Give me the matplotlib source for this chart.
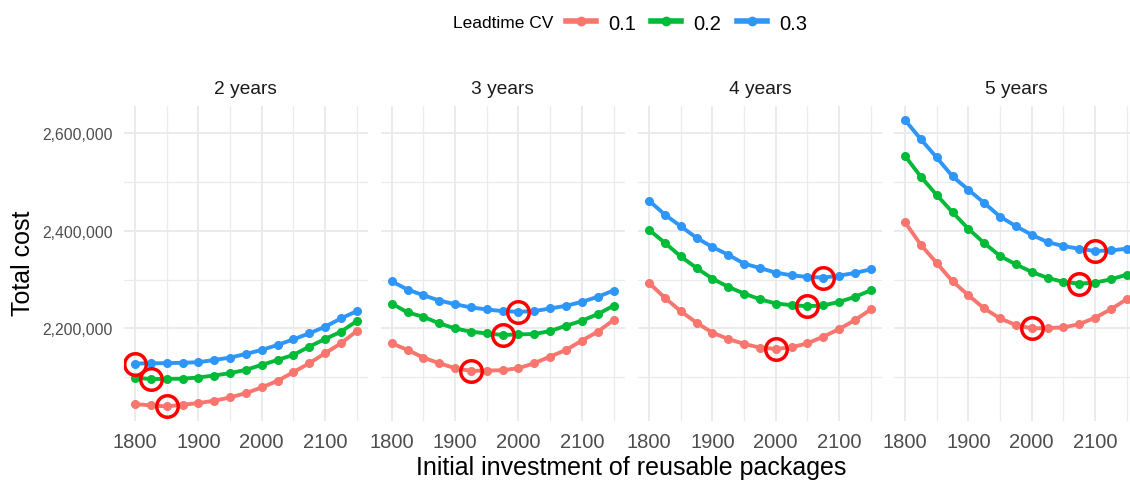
import numpy as np
import matplotlib
matplotlib.use("Agg")
import matplotlib.pyplot as plt
from matplotlib.lines import Line2D
from matplotlib.ticker import FuncFormatter, MultipleLocator

plt.rcParams["font.family"] = ["Liberation Sans", "DejaVu Sans"]

# ---- data -------------------------------------------------------------
investment = list(range(1800, 2151, 25))
horizons = ["2 years", "3 years", "4 years", "5 years"]
cv_levels = ["0.1", "0.2", "0.3"]
colors = ["#F8766D", "#00BA38", "#2E96F8"]

cost_2y_cv01 = [2044900, 2042100, 2040100, 2043500, 2046900, 2051600, 2058400, 2067300,
                2078900, 2092500, 2110200, 2128600, 2149000, 2169400, 2194600]
cost_2y_cv02 = [2099300, 2096000, 2096600, 2096800, 2099300, 2103400, 2108200, 2115000,
                2125200, 2135300, 2145600, 2162600, 2178300, 2193200, 2215000]
cost_2y_cv03 = [2128000, 2128400, 2128700, 2129500, 2130600, 2135300, 2140100, 2147600,
                2155800, 2166000, 2177600, 2189800, 2203400, 2220400, 2235400]

cost_3y_cv01 = [2169400, 2155800, 2140100, 2128600, 2118400, 2112900, 2113500, 2114200,
                2118400, 2128600, 2142200, 2155800, 2174800, 2193200, 2217000]
cost_3y_cv02 = [2251000, 2232700, 2223800, 2210200, 2200000, 2193200, 2189800, 2186400,
                2187800, 2188400, 2194600, 2205400, 2215600, 2229200, 2246300]
cost_3y_cv03 = [2296500, 2279600, 2268000, 2257100, 2249600, 2242900, 2238800, 2235400,
                2234000, 2235400, 2240800, 2246300, 2254400, 2264600, 2277600]

cost_4y_cv01 = [2293300, 2262700, 2235400, 2211600, 2191200, 2178300, 2168100, 2160600,
                2157900, 2161200, 2169400, 2183000, 2198600, 2217000, 2238800]
cost_4y_cv02 = [2402000, 2375500, 2347600, 2323800, 2302000, 2285100, 2271400, 2259800,
                2251000, 2247600, 2245500, 2247000, 2254400, 2264600, 2278100]
cost_4y_cv03 = [2461900, 2433300, 2409500, 2385700, 2366700, 2351000, 2332700, 2323800,
                2314300, 2308800, 2305500, 2304100, 2308200, 2313600, 2321100]

cost_5y_cv01 = [2417700, 2371400, 2334100, 2296500, 2268000, 2240800, 2220400, 2206800,
                2200000, 2200700, 2202000, 2208800, 2221800, 2239400, 2259800]
cost_5y_cv02 = [2553700, 2510900, 2473500, 2438100, 2404100, 2374900, 2348400, 2331200,
                2315700, 2303500, 2295300, 2291800, 2293900, 2300600, 2310200]
cost_5y_cv03 = [2627200, 2587800, 2550400, 2511600, 2484300, 2457100, 2429200, 2409500,
                2391800, 2376900, 2368700, 2363300, 2358600, 2359900, 2363300]

panels = [
    [cost_2y_cv01, cost_2y_cv02, cost_2y_cv03],
    [cost_3y_cv01, cost_3y_cv02, cost_3y_cv03],
    [cost_4y_cv01, cost_4y_cv02, cost_4y_cv03],
    [cost_5y_cv01, cost_5y_cv02, cost_5y_cv03],
]

# ---- layout -----------------------------------------------------------
W, H = 1130, 481
fig = plt.figure(figsize=(W / 100, H / 100), dpi=100)
fig.patch.set_facecolor("white")

panel_left_px = [123.9, 380.6, 637.9, 893.9]
panel_w_px = 244.0
panel_top_px, panel_bot_px = 106.7, 421.7

all_vals = np.concatenate([np.array(s) for p in panels for s in p])
yr = all_vals.max() - all_vals.min()
ylim = (all_vals.min() - 0.05 * yr, all_vals.max() + 0.05 * yr)
xr = investment[-1] - investment[0]
xlim = (investment[0] - 0.05 * xr, investment[-1] + 0.05 * xr)

grid_col = "#EBEBEB"
tick_col = "#4D4D4D"

for i, (name, series) in enumerate(zip(horizons, panels)):
    ax = fig.add_axes([panel_left_px[i] / W, 1 - panel_bot_px / H,
                       panel_w_px / W, (panel_bot_px - panel_top_px) / H])
    ax.set_xlim(*xlim)
    ax.set_ylim(*ylim)
    for s in ax.spines.values():
        s.set_visible(False)
    ax.xaxis.set_major_locator(MultipleLocator(100))
    ax.xaxis.set_minor_locator(MultipleLocator(50))
    ax.yaxis.set_major_locator(MultipleLocator(200000))
    ax.yaxis.set_minor_locator(MultipleLocator(100000))
    ax.grid(which="major", color=grid_col, lw=1.4)
    ax.grid(which="minor", color=grid_col, lw=0.9)
    ax.set_axisbelow(True)
    ax.tick_params(which="both", length=0)
    ax.tick_params(axis="x", labelsize=14.5, labelcolor=tick_col, pad=8)
    ax.tick_params(axis="y", labelsize=11.3, labelcolor=tick_col, pad=8)
    ax.yaxis.set_major_formatter(FuncFormatter(lambda v, p: f"{int(round(v)):,}"))
    if i > 0:
        ax.tick_params(axis="y", labelleft=False)
    ax.set_title(name, fontsize=13.8, color="#1A1A1A", pad=9)

    for vals, col in zip(series, colors):
        ax.plot(investment, vals, color=col, lw=2.8, marker="o", ms=5.5,
                solid_capstyle="butt", zorder=3)
    # highlight the cost-minimising investment level of each series
    for vals in series:
        k = int(np.argmin(vals))
        ax.plot(investment[k], vals[k], marker="o", ms=15.5, mfc="none",
                mec="#FF0000", mew=2.5, ls="none", zorder=4)

# axis titles
fig.text(23.5 / W, 1 - 263 / H, "Total cost", rotation=90, fontsize=18,
         ha="center", va="center", color="black")
fig.text(631 / W, 1 - 468 / H, "Initial investment of reusable packages",
         fontsize=18, ha="center", va="center", color="black")

# legend
fig.text(553 / W, 1 - 24 / H, "Leadtime CV", fontsize=12.5, ha="right",
         va="center", color="black")
handles = [Line2D([], [], color=c, lw=4, marker="o", ms=6) for c in colors]
fig.legend(handles, cv_levels, loc="center left", bbox_to_anchor=(566 / W, 1 - 24 / H),
           ncol=3, frameon=False, fontsize=14.5, handlelength=1.5,
           handletextpad=0.6, columnspacing=0.75, borderpad=0, borderaxespad=0)

fig.savefig("out.png", dpi=100, facecolor="white")
